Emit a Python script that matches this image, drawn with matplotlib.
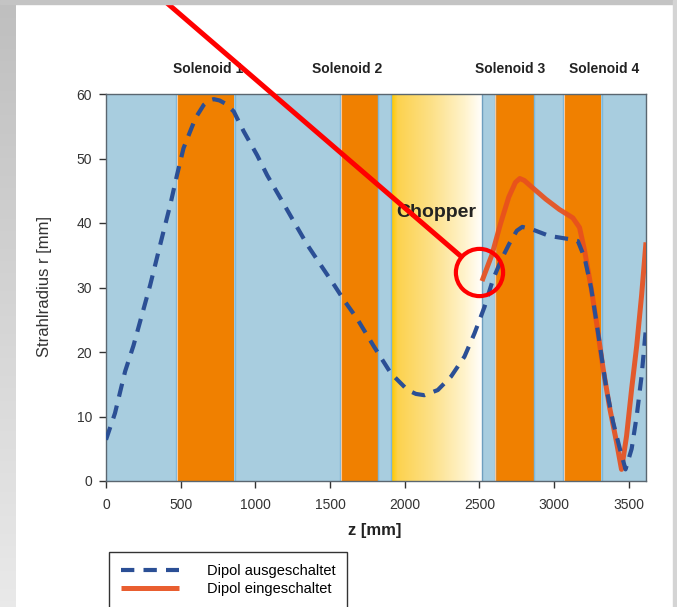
import numpy as np
import matplotlib
matplotlib.use('Agg')
import matplotlib.pyplot as plt
from matplotlib.colors import LinearSegmentedColormap
from matplotlib.patches import Rectangle

plt.rcParams['font.family'] = ['Liberation Sans', 'DejaVu Sans']

# Strahlradius ohne Dipol (blau gestrichelt)
z_aus = [0, 60, 128, 184, 240, 296, 340, 385, 430, 475, 519, 560, 600, 654, 690, 721,
         760, 800, 855, 922, 1012, 1079, 1169, 1258, 1348, 1437, 1527, 1594, 1680, 1795,
         1907, 2019, 2075, 2131, 2221, 2310, 2400, 2467, 2534, 2590, 2646, 2700, 2750,
         2787, 2854, 2967, 3103, 3159, 3204, 3248, 3283, 3316, 3350, 3395, 3440, 3478,
         3519, 3553, 3586, 3615]
r_aus = [6.4, 10.5, 17, 21, 25.7, 30.4, 34.5, 38.7, 42.8, 47.4, 51.6, 54, 56.3, 58.3, 59,
         59.2, 59, 58.5, 57.3, 54.2, 50.5, 47.4, 43.8, 40.2, 36.6, 33.5, 30.4, 28, 25.2,
         20.8, 16.7, 14.1, 13.5, 13.3, 14.1, 16.2, 19.3, 22.9, 27, 31.2, 34.3, 36.8, 38.8,
         39.4, 39.0, 38, 37.5, 37.2, 34.6, 29.9, 24.7, 19.5, 14.3, 9.1, 5, 1.8, 5, 10.1,
         16.4, 23.8]

# Strahlradius mit Dipol (rot)
z_ein = [2517, 2584, 2640, 2696, 2741, 2770, 2800, 2854, 2944, 3035, 3125, 3170, 3204,
         3248, 3283, 3328, 3373, 3418, 3451, 3485, 3519, 3553, 3586, 3615]
r_ein = [31, 35.1, 39.8, 44, 46.3, 46.9, 46.6, 45.5, 43.7, 42.1, 40.8, 39.3, 35.7, 29.9,
         24.7, 17.4, 11.2, 6, 1.8, 7, 14.3, 21, 28.9, 37]

# Solenoide (Anfang, Ende in mm) und Chopper
solenoid_namen = ['Solenoid 1', 'Solenoid 2', 'Solenoid 3', 'Solenoid 4']
solenoid_start = [472, 1570, 2607, 3065]
solenoid_ende = [857, 1819, 2862, 3317]
label_z = [685, 1612, 2707, 3338]
chopper_start, chopper_ende = 1912, 2515
z_max = 3615

fig = plt.figure(figsize=(6.77, 6.07), dpi=100)
fig.patch.set_facecolor('white')
#---------------------------------------------------------------------------------------Hintergrund (Folie)
gx = fig.add_axes([0, 0, 16 / 677, 1])
gx.imshow(np.linspace(0, 1, 100).reshape(-1, 1), aspect='auto', extent=[0, 1, 0, 1],
          cmap=LinearSegmentedColormap.from_list('g', ['#e9e9e9', '#bfbfbf']), origin='lower')
gx.axis('off')
fig.patches.append(Rectangle((0, 1 - 4 / 607), 1, 4 / 607, transform=fig.transFigure,
                             color='#c4c4c4', zorder=0))
fig.patches.append(Rectangle((673 / 677, 0), 4 / 677, 1, transform=fig.transFigure,
                             color='#d4d4d4', zorder=0))

ax = fig.add_axes([106 / 677, 1 - 481 / 607, 540 / 677, 387 / 607])
ax.set_facecolor('#a8cddf')
#---------------------------------------------------------------------------------------Bereiche
for s, e in zip(solenoid_start, solenoid_ende):
    ax.axvspan(s, e, color='#f08000', lw=0, zorder=1)
    ax.axvline(s - 6, color='#7db8db', lw=1, zorder=1.5)
    ax.axvline(s, color='#f6c9a0', lw=0.8, zorder=1.5)
    ax.axvline(e + 4, color='#7db8db', lw=1, zorder=1.5)

chop = LinearSegmentedColormap.from_list('chop', [(0, '#ffc800'), (0.06, '#fcd24e'),
                                                  (0.45, '#fde18a'), (0.8, '#fff3cc'),
                                                  (1, '#ffffff')])
ax.imshow(np.linspace(0, 1, 256).reshape(1, -1), aspect='auto', cmap=chop,
          extent=[chopper_start, chopper_ende, 0, 60], zorder=1)
ax.axvline(chopper_start - 4, color='#7db8db', lw=1, zorder=1.5)
ax.axvline(chopper_ende + 3, color='#6f9fbf', lw=1, zorder=1.5)

#---------------------------------------------------------------------------------------Kurven
l_ein, = ax.plot(z_ein, r_ein, color='#e8501e', lw=3.6, zorder=3, alpha=0.92,
                 solid_capstyle='butt')
l_aus, = ax.plot(z_aus, r_aus, color='#2b4f95', lw=3.0, ls=(0, (3.2, 2.2)), zorder=4,
                 solid_capstyle='butt', dash_capstyle='butt')

ax.set_xlim(0, z_max)
ax.set_ylim(0, 60)
ax.set_xticks(range(0, 3501, 500))
ax.set_yticks(range(0, 61, 10))
ax.tick_params(axis='both', labelsize=10, colors='#333333', length=5, width=1, direction='out')
ax.tick_params(axis='x', pad=7)
ax.tick_params(axis='y', pad=5)
for sp in ax.spines.values():
    sp.set_color('#5a6670')
    sp.set_linewidth(1)

ax.set_xlabel('z [mm]', fontsize=12, fontweight='bold', color='#222222')
ax.xaxis.set_label_coords(0.498, -0.108)
ax.set_ylabel('Strahlradius r [mm]', fontsize=12, color='#333333')
ax.yaxis.set_label_coords(-0.1, 0.503)

for name, z in zip(solenoid_namen, label_z):
    ax.text(z, 63.8, name, ha='center', va='center', fontsize=10, fontweight='bold',
            color='#222222', clip_on=False)
ax.text(2213, 41.6, 'Chopper', ha='center', va='center', fontsize=14, fontweight='bold',
        color='#222222', zorder=5)

#---------------------------------------------------------------------------------------rote Markierung
ax.plot([2498], [32.4], marker='o', ms=34, mfc='none', mec='#ff0000', mew=3, zorder=6,
        clip_on=False)
ax.annotate('', xy=(2498, 32.4), xycoords='data', xytext=(160, 610), textcoords='figure pixels',
            arrowprops=dict(arrowstyle='-', color='#ff0000', lw=3.6, shrinkA=0, shrinkB=17),
            zorder=6, annotation_clip=False)

#---------------------------------------------------------------------------------------Legende
leg = fig.legend([l_aus, l_ein], ['Dipol ausgeschaltet', 'Dipol eingeschaltet'],
                 loc='upper left', bbox_to_anchor=(109 / 677, 1 - 552 / 607),
                 bbox_transform=fig.transFigure, fancybox=False, edgecolor='#333333',
                 borderaxespad=0, handlelength=4, handletextpad=1.9, fontsize=10.5,
                 labelspacing=0.3, borderpad=0.8, framealpha=1)
leg.get_frame().set_linewidth(1.0)

plt.savefig('out.png', dpi=100)
